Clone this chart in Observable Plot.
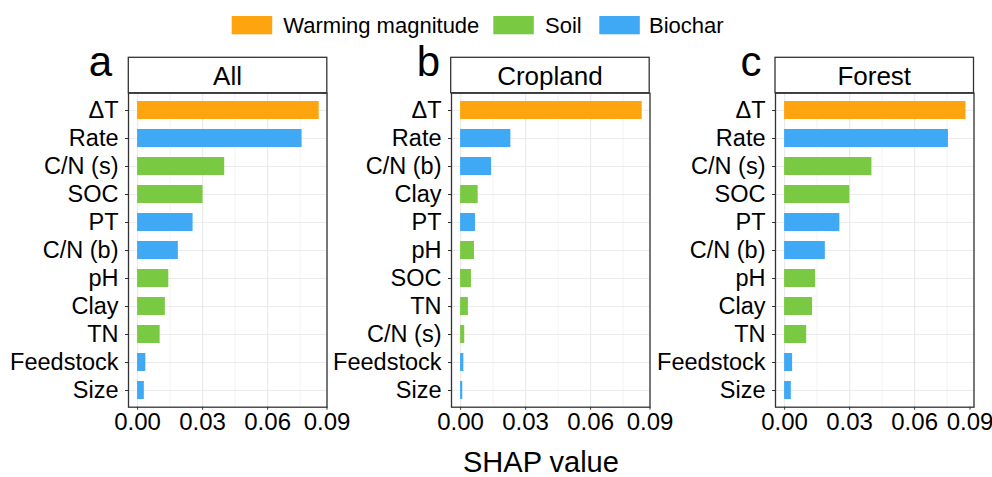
<!DOCTYPE html>
<html>
<head>
<meta charset="utf-8">
<script src="https://cdn.jsdelivr.net/npm/d3@7"></script>
<script src="https://cdn.jsdelivr.net/npm/@observablehq/plot@0.6"></script>
<style>
  html, body { margin: 0; padding: 0; background: #fff; }
  #root { position: relative; width: 992px; height: 477px; overflow: hidden; font-family: "Liberation Sans", Arial, Helvetica, sans-serif; }
  .panel { position: absolute; top: 0; overflow: visible; }
  #overlay { position: absolute; left: 0; top: 0; pointer-events: none; }
</style>
</head>
<body>
<div id="root"></div>
<script>
// ---------------- data ----------------
const groups = ["Warming magnitude", "Soil", "Biochar"];
const groupColors = ["#FDA40F", "#7AC943", "#3FA9F5"];
const featureGroup = {
  "ΔT": "Warming magnitude",
  "Rate": "Biochar", "PT": "Biochar", "C/N (b)": "Biochar", "Feedstock": "Biochar", "Size": "Biochar",
  "C/N (s)": "Soil", "SOC": "Soil", "pH": "Soil", "Clay": "Soil", "TN": "Soil"
};

const panelLetters = ["a", "b", "c"];
const panelTitles = ["All", "Cropland", "Forest"];

const allFeatures = ["ΔT", "Rate", "C/N (s)", "SOC", "PT", "C/N (b)", "pH", "Clay", "TN", "Feedstock", "Size"];
const allValues   = [0.0838, 0.0759, 0.0402, 0.0302, 0.0256, 0.0188, 0.0144, 0.0128, 0.0104, 0.0038, 0.0031];

const croplandFeatures = ["ΔT", "Rate", "C/N (b)", "Clay", "PT", "pH", "SOC", "TN", "C/N (s)", "Feedstock", "Size"];
const croplandValues   = [0.0838, 0.0232, 0.0143, 0.0081, 0.0069, 0.0064, 0.0050, 0.0036, 0.0019, 0.0015, 0.0010];

const forestFeatures = ["ΔT", "Rate", "C/N (s)", "SOC", "PT", "C/N (b)", "pH", "Clay", "TN", "Feedstock", "Size"];
const forestValues   = [0.0837, 0.0756, 0.0403, 0.0301, 0.0255, 0.0188, 0.0143, 0.0129, 0.0102, 0.0037, 0.0031];

const xDomain = [-0.0042, 0.0874];
const xTicks = [0, 0.03, 0.06, 0.0874];
const xMinor = [0.015, 0.045, 0.075];
const xTitle = "SHAP value";

// ---------------- layout ----------------
const FONT = '"Liberation Sans", Arial, Helvetica, sans-serif';
const frameLefts = [128.3, 450.7, 775];
const frameWidth = 198.5;
const frameTop = 92.7, frameBottom = 406.7;
const stripTop = 57.3;
const svgH = 445;
const mLeft = 128;
const mRight = 30;
const lastTickShift = [0, 0, -4];

const root = document.getElementById("root");

const panels = [
  [allFeatures, allValues],
  [croplandFeatures, croplandValues],
  [forestFeatures, forestValues]
];

panels.forEach(([feats, vals], i) => {
  const data = feats.map((f, j) => ({feature: f, value: vals[j], group: featureGroup[f]}));
  const fmt = d => d.toFixed(2);
  const chart = Plot.plot({
    width: mLeft + frameWidth + mRight,
    height: svgH,
    marginLeft: mLeft,
    marginRight: mRight,
    marginTop: frameTop,
    marginBottom: svgH - frameBottom,
    style: {fontFamily: FONT, fontSize: "23px", color: "#000", background: "transparent", overflow: "visible"},
    x: {domain: xDomain},
    y: {domain: feats, paddingInner: 0.36, paddingOuter: 0.28},
    color: {domain: groups, range: groupColors},
    marks: [
      Plot.gridX(xMinor, {stroke: "#f3f3f3", strokeOpacity: 1, strokeWidth: 1}),
      Plot.gridX(xTicks, {stroke: "#ebebeb", strokeOpacity: 1, strokeWidth: 1.2}),
      Plot.gridY({stroke: "#ebebeb", strokeOpacity: 1, strokeWidth: 1.2}),
      Plot.barX(data, {x: "value", y: "feature", fill: "group"}),
      Plot.axisX(xTicks.slice(0, 3), {tickFormat: fmt, tickSize: 3, tickPadding: 3, label: null, stroke: "#333", fill: "#000", fontSize: 24}),
      Plot.axisX(xTicks.slice(3), {tickFormat: fmt, tickSize: 3, tickPadding: 3, label: null, stroke: "#333", fill: "#000", fontSize: 24, textStroke: null, dx: lastTickShift[i]}),
      Plot.axisY({tickSize: 3, tickPadding: 7, label: null, stroke: "#333", fill: "#000", fontSize: 23.5}),
      Plot.frame({stroke: "#333", strokeWidth: 1.3})
    ]
  });
  chart.classList.add("panel");
  chart.style.left = (frameLefts[i] - mLeft) + "px";
  root.appendChild(chart);
});

// ---------------- overlay: strips, letters, legend, axis title ----------------
const ov = d3.select(root).append("svg")
  .attr("id", "overlay")
  .attr("width", 992).attr("height", 477)
  .style("font-family", FONT);

const letterX = [100.5, 428.5, 751];
panels.forEach((p, i) => {
  ov.append("rect")
    .attr("x", frameLefts[i]).attr("y", stripTop)
    .attr("width", frameWidth).attr("height", frameTop - stripTop)
    .attr("fill", "#fff").attr("stroke", "#333").attr("stroke-width", 1.3);
  ov.append("text")
    .attr("x", frameLefts[i] + frameWidth / 2).attr("y", 84.5)
    .attr("text-anchor", "middle").attr("font-size", 26).attr("fill", "#000")
    .text(panelTitles[i]);
  ov.append("text")
    .attr("x", letterX[i]).attr("y", 76)
    .attr("text-anchor", "middle").attr("font-size", 42).attr("fill", "#000")
    .text(panelLetters[i]);
});

// legend
const swatchX = [231.7, 493.3, 599.3];
const textX = [283.3, 545, 649];
groups.forEach((g, i) => {
  ov.append("rect")
    .attr("x", swatchX[i]).attr("y", 16)
    .attr("width", 40.5).attr("height", 18.3)
    .attr("fill", groupColors[i]);
  ov.append("text")
    .attr("x", textX[i]).attr("y", 33)
    .attr("font-size", 22).attr("fill", "#000")
    .text(g);
});

ov.append("text")
  .attr("x", 463).attr("y", 472)
  .attr("font-size", 29).attr("fill", "#000")
  .text(xTitle);
</script>
</body>
</html>
